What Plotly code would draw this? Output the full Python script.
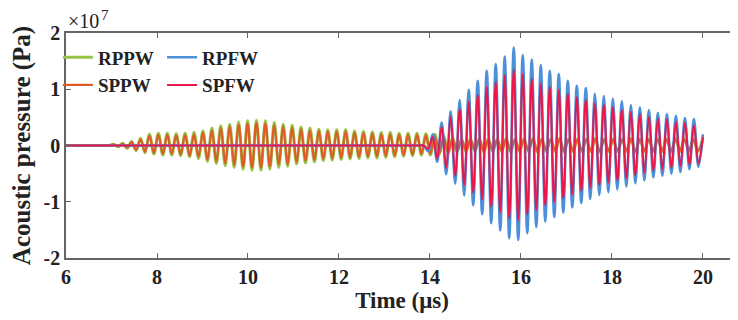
import plotly.graph_objects as go

# ---------------- data (values in units of 1e7 Pa) ----------------
# "PW" signals: oscillation with positive peaks / negative troughs per cycle
PW_START = 7.05        # time of first positive peak (µs)
PW_PERIOD = 0.196      # oscillation period (µs)
RPPW_pos = [0.02, 0.04, 0.07, 0.13, 0.20, 0.22, 0.22, 0.21, 0.22, 0.23,
            0.26, 0.31, 0.35, 0.38, 0.42, 0.44, 0.45, 0.44, 0.41, 0.38,
            0.36, 0.33, 0.31, 0.29, 0.28, 0.28, 0.28, 0.26, 0.25, 0.24,
            0.23, 0.23, 0.22, 0.22, 0.22, 0.21, 0.20, 0.17, 0.14, 0.12,
            0.12, 0.13, 0.12, 0.12, 0.13, 0.12, 0.12, 0.13, 0.12, 0.12,
            0.13, 0.12, 0.12, 0.12, 0.13, 0.12, 0.12, 0.12, 0.13, 0.12,
            0.12, 0.12, 0.12, 0.13, 0.12, 0.12, 0.10]
RPPW_neg = [-0.02, -0.05, -0.09, -0.13, -0.15, -0.17, -0.17, -0.18, -0.20, -0.23,
            -0.28, -0.32, -0.36, -0.39, -0.42, -0.44, -0.44, -0.42, -0.39, -0.37,
            -0.33, -0.31, -0.29, -0.27, -0.26, -0.25, -0.24, -0.23, -0.22, -0.22,
            -0.21, -0.20, -0.19, -0.18, -0.17, -0.17, -0.16, -0.14, -0.12, -0.11,
            -0.11, -0.12, -0.11, -0.11, -0.12, -0.11, -0.11, -0.12, -0.11, -0.11,
            -0.12, -0.11, -0.11, -0.11, -0.12, -0.11, -0.11, -0.11, -0.12, -0.11,
            -0.11, -0.11, -0.12, -0.11, -0.11, -0.11]
SPPW_pos = [0.02, 0.03, 0.06, 0.11, 0.17, 0.19, 0.19, 0.18, 0.19, 0.20,
            0.23, 0.27, 0.31, 0.34, 0.37, 0.39, 0.40, 0.39, 0.36, 0.34,
            0.32, 0.29, 0.27, 0.26, 0.25, 0.25, 0.25, 0.23, 0.22, 0.21,
            0.20, 0.20, 0.19, 0.19, 0.19, 0.18, 0.17, 0.14, 0.11, 0.10,
            0.10, 0.11, 0.10, 0.10, 0.11, 0.10, 0.10, 0.11, 0.10, 0.10,
            0.11, 0.10, 0.10, 0.10, 0.11, 0.10, 0.10, 0.10, 0.11, 0.10,
            0.10, 0.10, 0.10, 0.11, 0.10, 0.10, 0.08]
SPPW_neg = [-0.02, -0.04, -0.08, -0.11, -0.13, -0.15, -0.15, -0.16, -0.18, -0.20,
            -0.25, -0.28, -0.32, -0.34, -0.37, -0.39, -0.39, -0.37, -0.34, -0.33,
            -0.29, -0.27, -0.26, -0.24, -0.23, -0.22, -0.21, -0.20, -0.19, -0.19,
            -0.18, -0.18, -0.17, -0.16, -0.15, -0.15, -0.14, -0.12, -0.10, -0.09,
            -0.09, -0.10, -0.09, -0.09, -0.10, -0.09, -0.09, -0.10, -0.09, -0.09,
            -0.10, -0.09, -0.09, -0.09, -0.10, -0.09, -0.09, -0.09, -0.10, -0.09,
            -0.09, -0.09, -0.10, -0.09, -0.09, -0.09]

# "FW" signals: first trough at FW_START, then peak / trough alternating
FW_START = 13.96
FW_PERIOD = 0.198
RPFW_neg = [-0.10, -0.29, -0.51, -0.68, -0.89, -1.06, -1.22, -1.38, -1.51, -1.65,
            -1.68, -1.56, -1.45, -1.35, -1.27, -1.19, -1.10, -1.02, -0.95, -0.88,
            -0.83, -0.78, -0.73, -0.67, -0.62, -0.57, -0.54, -0.50, -0.47, -0.42, -0.38]
RPFW_pos = [0.20, 0.41, 0.61, 0.81, 0.99, 1.15, 1.33, 1.45, 1.58, 1.74,
            1.61, 1.53, 1.43, 1.33, 1.27, 1.15, 1.06, 1.02, 0.92, 0.88,
            0.83, 0.79, 0.72, 0.68, 0.63, 0.58, 0.56, 0.53, 0.49, 0.47, 0.20]
SPFW_neg = [-0.06, -0.23, -0.40, -0.54, -0.70, -0.84, -0.96, -1.09, -1.19, -1.30,
            -1.33, -1.23, -1.15, -1.07, -1.00, -0.94, -0.87, -0.81, -0.75, -0.70,
            -0.66, -0.62, -0.58, -0.53, -0.49, -0.45, -0.43, -0.40, -0.37, -0.34, -0.32]
SPFW_pos = [0.15, 0.33, 0.51, 0.64, 0.78, 0.90, 1.05, 1.13, 1.25, 1.35,
            1.27, 1.19, 1.10, 1.05, 0.99, 0.92, 0.86, 0.81, 0.75, 0.72,
            0.68, 0.63, 0.60, 0.56, 0.51, 0.48, 0.47, 0.42, 0.41, 0.36, 0.15]

T_BEGIN = 6.0
T_END = 20.0
X_TICKS = [6, 8, 10, 12, 14, 16, 18, 20]
Y_TICKS = [-2, -1, 0, 1, 2]
Y_TICKTEXT = ["-2", "-1", "0", "1", "2"]


def pw_series(pos, neg):
    # silent (zero) stretch before the wave arrives, then peaks/troughs
    t = [T_BEGIN, PW_START - 0.3, PW_START - 0.2, PW_START - 0.1]
    v = [0.0, 0.0, 0.0, 0.0]
    for k in range(len(pos)):
        t.append(PW_START + PW_PERIOD * k)
        v.append(pos[k])
        if k < len(neg):
            t.append(PW_START + PW_PERIOD * k + PW_PERIOD / 2)
            v.append(neg[k])
    return t, v


def fw_series(pos, neg):
    t = [T_BEGIN, FW_START - 0.3, FW_START - 0.2, FW_START - 0.1]
    v = [0.0, 0.0, 0.0, 0.0]
    for k in range(len(neg)):
        t.append(FW_START + FW_PERIOD * k)
        v.append(neg[k])
        if k < len(pos):
            tp = FW_START + FW_PERIOD * k + FW_PERIOD / 2
            t.append(min(tp, T_END))
            v.append(pos[k])
    return t, v


series = [
    ("RPPW", pw_series(RPPW_pos, RPPW_neg), "#97C447", 3.0, "legend", 1),
    ("SPPW", pw_series(SPPW_pos, SPPW_neg), "#DD5C28", 2.2, "legend", 2),
    ("RPFW", fw_series(RPFW_pos, RPFW_neg), "#4C90DA", 2.6, "legend2", 1),
    ("SPFW", fw_series(SPFW_pos, SPFW_neg), "#E8184A", 2.0, "legend2", 2),
]

fig = go.Figure()
for name, (t, v), color, w, leg, rank in series:
    fig.add_trace(go.Scatter(
        x=t, y=v, mode="lines", name=name,
        line=dict(color=color, width=w, shape="spline", smoothing=1.0),
        legend=leg, legendrank=rank,
    ))

FONT = "Liberation Serif"
INK = "#222222"
tickfont = dict(family=FONT, size=20, color=INK, weight="bold")
legfont = dict(family=FONT, size=19, color=INK, weight="bold")

# the page body has an 8px default margin, so the figure is 8px smaller
fig.update_layout(
    width=730, height=312,
    margin=dict(l=58, r=0, t=25, b=62, autoexpand=False),
    paper_bgcolor="white", plot_bgcolor="white",
    showlegend=True,
    legend=dict(x=-0.012, y=0.976, xanchor="left", yanchor="top",
                bgcolor="rgba(0,0,0,0)", font=legfont, tracegroupgap=0,
                itemwidth=30),
    legend2=dict(x=0.143, y=0.976, xanchor="left", yanchor="top",
                 bgcolor="rgba(0,0,0,0)", font=legfont, tracegroupgap=0,
                 itemwidth=30),
    xaxis=dict(
        range=[6, 20.77], tickvals=X_TICKS, ticks="inside", ticklen=5,
        tickcolor="#666666", showline=True, linecolor="#666666", linewidth=1.5,
        mirror="ticks", showgrid=False, zeroline=False, tickfont=tickfont,
        automargin=False,
        title=dict(text="Time (μs)",
                   font=dict(family=FONT, size=23, color=INK, weight="bold"),
                   standoff=4),
    ),
    yaxis=dict(
        range=[-2, 2], tickvals=Y_TICKS, ticktext=Y_TICKTEXT,
        ticks="inside", ticklen=5, tickcolor="#666666", showline=True,
        linecolor="#666666", linewidth=1.5, showgrid=False, zeroline=False,
        tickfont=tickfont, automargin=False,
        title=dict(text="Acoustic pressure (Pa)",
                   font=dict(family=FONT, size=25, color=INK, weight="bold"),
                   standoff=7),
    ),
    annotations=[
        dict(text="×10", xref="paper", yref="paper", x=0.0, y=1.0,
             xanchor="left", yanchor="bottom", showarrow=False, yshift=-1,
             font=dict(family=FONT, size=20, color=INK)),
        dict(text="7", xref="paper", yref="paper", x=0.0, y=1.0,
             xanchor="left", yanchor="bottom", showarrow=False,
             xshift=33, yshift=8,
             font=dict(family=FONT, size=15, color=INK)),
    ],
)

fig.write_html("out.html")
